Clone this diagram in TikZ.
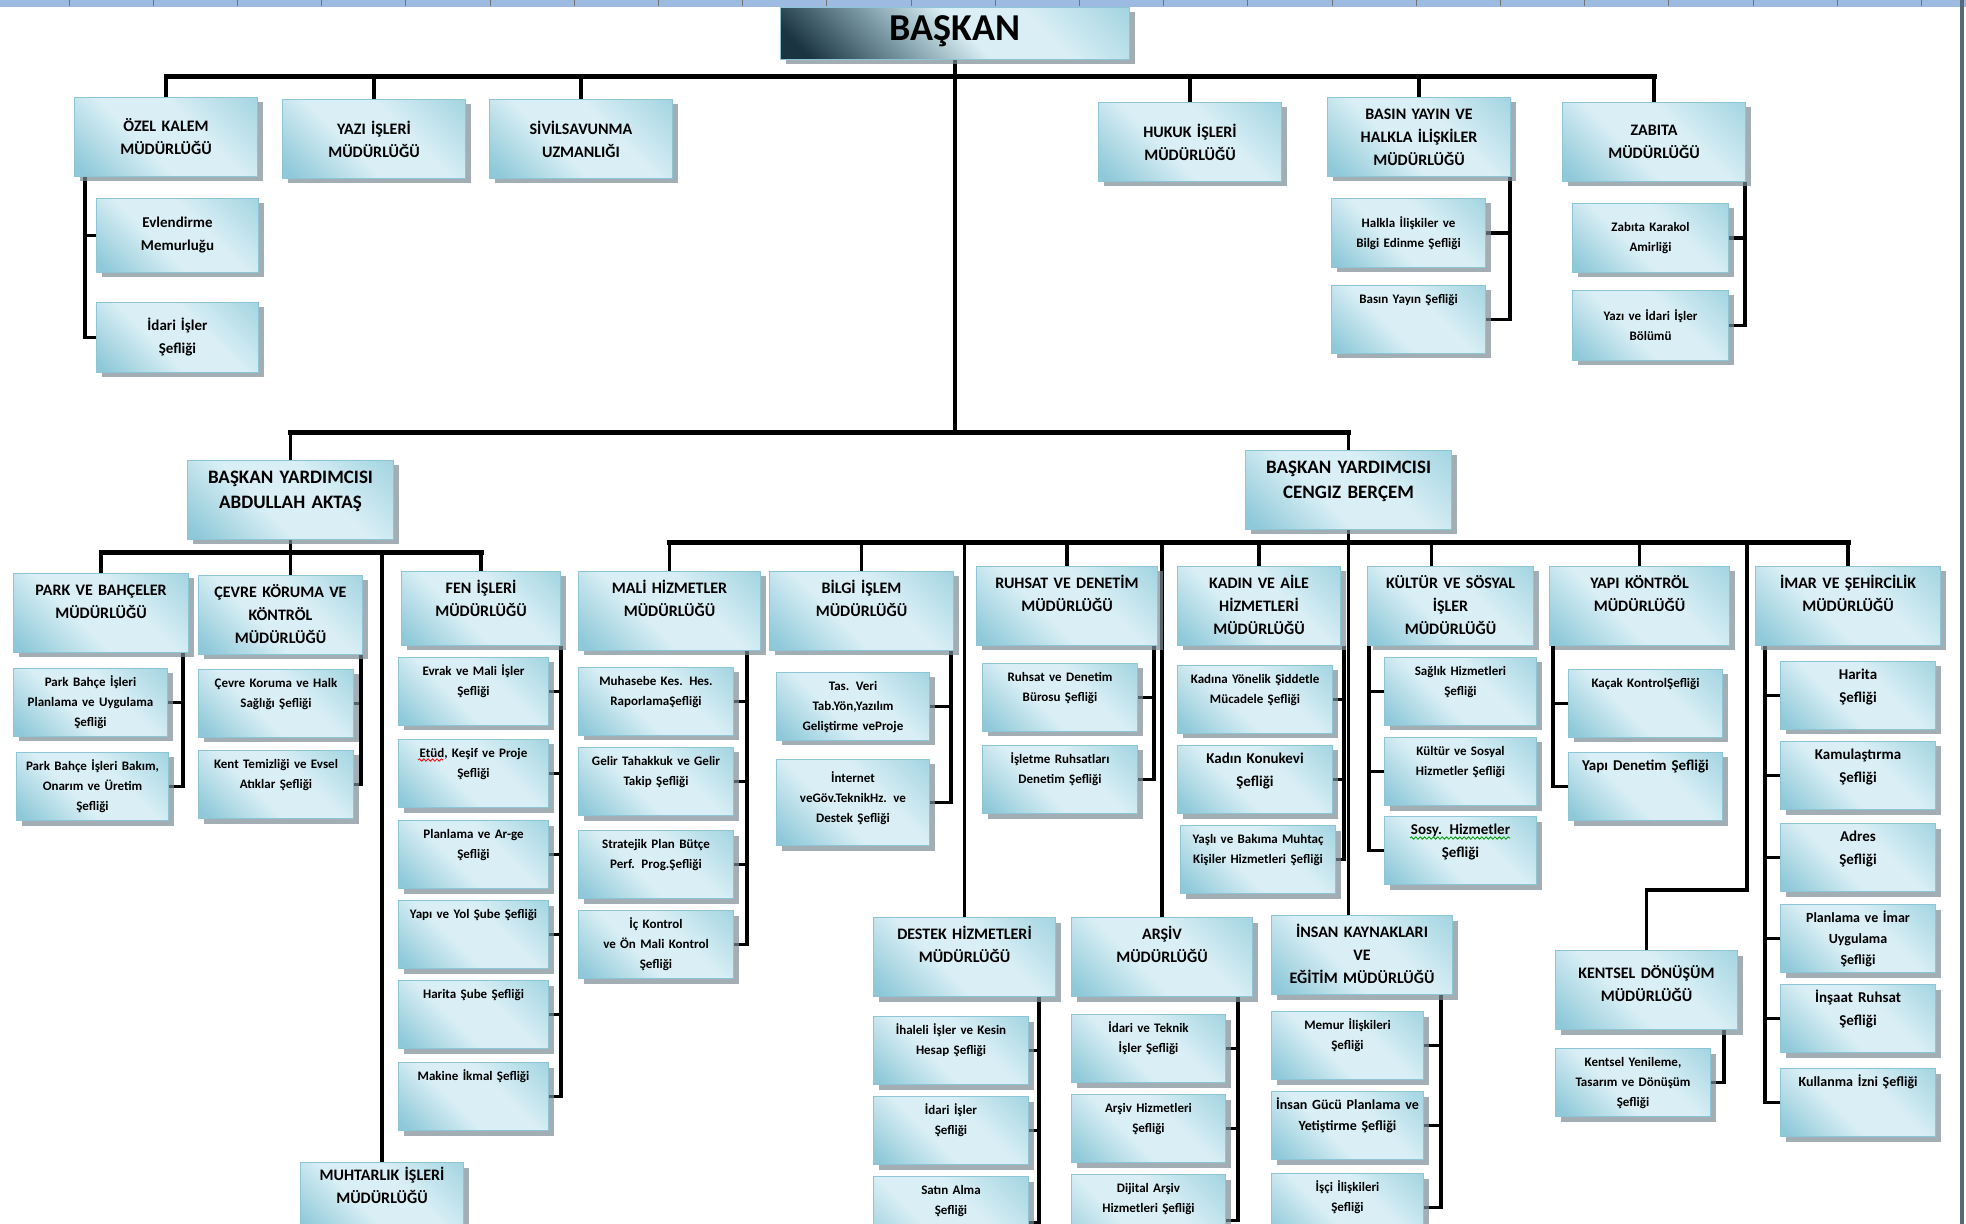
\documentclass[tikz,border=0pt]{standalone}
\usepackage{fontspec}
\setmainfont{Carlito}
\usetikzlibrary{shadows, backgrounds, decorations.pathmorphing}

\definecolor{bxdark}{HTML}{8FC9D9}
\definecolor{bxlight}{HTML}{DAEFF5}
\definecolor{bxmid}{HTML}{A4D5E2}
\definecolor{bxline}{HTML}{8CC6D6}
\definecolor{bxshadow}{HTML}{7D8C95}
\definecolor{bsdark}{HTML}{1B3442}
\definecolor{bsmid}{HTML}{7F9DA8}
\definecolor{bandblue}{HTML}{9DBBE1}
\definecolor{edgegray}{HTML}{56697A}

\pgfdeclarehorizontalshading{boxfill}{100bp}{color(0bp)=(bxdark); color(18bp)=(bxdark); color(42bp)=(bxlight); color(60bp)=(bxlight); color(85bp)=(bxmid); color(100bp)=(bxmid)}
\pgfdeclarehorizontalshading{bossfill}{100bp}{color(0bp)=(bsdark); color(20bp)=(bsdark); color(38bp)=(bsmid); color(52bp)=(bxlight); color(66bp)=(bxlight); color(85bp)=(bxmid); color(100bp)=(bxmid)}

\newcommand\baskanfont{\fontsize{19}{22}\selectfont\bfseries}
\newcommand\yrdfont{\fontsize{9.5}{12.5}\selectfont\bfseries}
\newcommand\mudurfont{\fontsize{8}{11.5}\selectfont\bfseries}
\newcommand\seffont{\fontsize{6.5}{10}\selectfont\bfseries}
\newcommand\ustseffont{\fontsize{7.5}{11.5}\selectfont\bfseries}

\begin{document}
\begin{tikzpicture}[x=0.5pt, y=-0.5pt,
    boxbase/.style={draw=bxline, line width=0.5pt, shading=boxfill, shading angle=45,
        drop shadow={shadow xshift=2.5pt, shadow yshift=-2.5pt, fill=bxshadow, opacity=0.7},
        anchor=north west, align=center, inner xsep=2pt},
    topbox/.style={boxbase, text width=87.5pt, minimum height=39.5pt, font=\mudurfont},
    mudur/.style={boxbase, text width=87pt, inner ysep=6pt, text height=5pt, text depth=22.5pt, font=\mudurfont},
    yrd/.style={boxbase, text width=99pt, inner ysep=5.5pt, text height=6pt, text depth=22.5pt, font=\yrdfont},
    sef/.style={boxbase, text width=73.5pt, inner ysep=4.5pt, text height=4.5pt, text depth=20.5pt, font=\seffont},
    sefb/.style={sef, font=\ustseffont},
    sefc/.style={boxbase, text width=73.5pt, minimum height=34.5pt, font=\seffont},
    conn/.style={line width=1.7pt},
    bus/.style={line width=2.5pt, line cap=rect},
    squig/.style={#1, line width=0.4pt, decorate, decoration={snake, amplitude=0.6pt, segment length=2.2pt}}
]
\useasboundingbox (0,0) rectangle (1966,1224);
\clip (0,0) rectangle (1966,1224);

% Baskan and the top row
\node[boxbase, shading=bossfill, text width=170.5pt, inner ysep=4pt, text height=12.5pt, text depth=5.5pt, font=\baskanfont] (baskan) at (780,7) {BAŞKAN};

\node[topbox] (ozel) at (74,97) {ÖZEL KALEM\\MÜDÜRLÜĞÜ};
\node[topbox] (yazi) at (282,99) {YAZI İŞLERİ\\MÜDÜRLÜĞÜ};
\node[topbox] (sivil) at (489,99) {SİVİLSAVUNMA\\UZMANLIĞI};
\node[topbox] (hukuk) at (1098,102) {HUKUK İŞLERİ\\MÜDÜRLÜĞÜ};
\node[topbox] (basin) at (1327,97) {BASIN YAYIN VE\\HALKLA İLİŞKİLER\\MÜDÜRLÜĞÜ};
\node[topbox] (zabita) at (1562,102) {ZABITA\\MÜDÜRLÜĞÜ};

\node[sefc, text width=77pt, minimum height=37pt, font=\ustseffont] (evlen) at (96,198) {Evlendirme\\Memurluğu};
\node[sefc, text width=77pt, minimum height=35pt, font=\ustseffont] (idari) at (96,302) {İdari İşler\\Şefliği};
\node[sefc, text width=73pt] (halkla) at (1331,198) {Halkla İlişkiler ve\\Bilgi Edinme Şefliği};
\node[sef, text width=73pt] (basyay) at (1331,285) {Basın Yayın Şefliği};
\node[sefc, text width=74pt] (karakol) at (1572,203) {Zabıta Karakol\\Amirliği};
\node[sefc, text width=74pt, minimum height=35pt] (zyazi) at (1572,290) {Yazı ve İdari İşler\\Bölümü};

% Baskan yardimcilari
\node[yrd] (abdullah) at (187,460) {BAŞKAN YARDIMCISI\\ABDULLAH AKTAŞ};
\node[yrd] (cengiz) at (1245,450) {BAŞKAN YARDIMCISI\\CENGIZ BERÇEM};

% Abdullah Aktas branch
\node[mudur, text width=83.5pt] (park) at (13,573) {PARK VE BAHÇELER\\MÜDÜRLÜĞÜ};
\node[mudur, text width=78pt] (cevre) at (198,575) {ÇEVRE KÖRUMA VE\\KÖNTRÖL\\MÜDÜRLÜĞÜ};
\node[mudur, text width=75.5pt, text depth=20pt] (fen) at (401,571) {FEN İŞLERİ\\MÜDÜRLÜĞÜ};
\node[mudur, text width=77.5pt, inner ysep=4pt] (muhtar) at (300,1162) {MUHTARLIK İŞLERİ\\MÜDÜRLÜĞÜ};

\node[sef, text width=73pt] (parkA) at (13,668) {Park Bahçe İşleri\\Planlama ve Uygulama\\Şefliği};
\node[sef, text width=72pt] (parkB) at (16,752) {Park Bahçe İşleri Bakım,\\Onarım ve Üretim\\Şefliği};
\node[sef] (cevreA) at (198,669) {Çevre Koruma ve Halk\\Sağlığı Şefliği};
\node[sef] (cevreB) at (198,750) {Kent Temizliği ve Evsel\\Atıklar Şefliği};

\node[sef, text width=71pt] (fenA) at (398,657) {Evrak ve Mali İşler\\Şefliği};
\node[sef, text width=71pt] (fenB) at (398,739) {Etüd, Keşif ve Proje\\Şefliği};
\node[sef, text width=71pt] (fenC) at (398,820) {Planlama ve Ar-ge\\Şefliği};
\node[sef, text width=71pt] (fenD) at (398,900) {Yapı ve Yol Şube Şefliği};
\node[sef, text width=71pt] (fenE) at (398,980) {Harita Şube Şefliği};
\node[sef, text width=71pt] (fenF) at (398,1062) {Makine İkmal Şefliği};

% Cengiz Bercem branch
\node[mudur] (mali) at (578,571) {MALİ HİZMETLER\\MÜDÜRLÜĞÜ};
\node[mudur, text width=88pt] (bilgi) at (769,571) {BİLGİ İŞLEM\\MÜDÜRLÜĞÜ};
\node[mudur, text width=86.5pt] (ruhsat) at (976,566) {RUHSAT VE DENETİM\\MÜDÜRLÜĞÜ};
\node[mudur, text width=77.5pt] (kadin) at (1177,566) {KADIN VE AİLE\\HİZMETLERİ\\MÜDÜRLÜĞÜ};
\node[mudur, text width=79pt] (kultur) at (1367,566) {KÜLTÜR VE SÖSYAL\\İŞLER\\MÜDÜRLÜĞÜ};
\node[mudur, text width=86pt] (yapi) at (1549,566) {YAPI KÖNTRÖL\\MÜDÜRLÜĞÜ};
\node[mudur, text width=88.5pt] (imar) at (1755,566) {İMAR VE ŞEHİRCİLİK\\MÜDÜRLÜĞÜ};
\node[mudur] (destek) at (873,917) {DESTEK HİZMETLERİ\\MÜDÜRLÜĞÜ};
\node[mudur, text width=86.5pt] (arsiv) at (1071,917) {ARŞİV\\MÜDÜRLÜĞÜ};
\node[mudur, text width=86.5pt] (insan) at (1271,915) {İNSAN KAYNAKLARI\\VE\\EĞİTİM MÜDÜRLÜĞÜ};
\node[mudur, inner ysep=9pt, text depth=16.5pt] (kentsel) at (1555,950) {KENTSEL DÖNÜŞÜM\\MÜDÜRLÜĞÜ};

\node[sef] (maliA) at (578,667) {Muhasebe Kes. Hes.\\RaporlamaŞefliği};
\node[sef] (maliB) at (578,747) {Gelir Tahakkuk ve Gelir\\Takip Şefliği};
\node[sef] (maliC) at (578,830) {Stratejik Plan Bütçe\\Perf. Prog.Şefliği};
\node[sef] (maliD) at (578,910) {İç Kontrol\\ve Ön Mali Kontrol\\Şefliği};
\node[sef, text width=72.5pt] (bilgiA) at (776,672) {Tas. Veri\\Tab.Yön,Yazılım\\Geliştirme veProje};
\node[sef, text width=72.5pt, inner ysep=7pt, text depth=24.5pt] (bilgiB) at (776,759) {İnternet\\veGöv.TeknikHz. ve\\Destek Şefliği};
\node[sef] (ruhsatA) at (982,663) {Ruhsat ve Denetim\\Bürosu Şefliği};
\node[sef] (ruhsatB) at (982,745) {İşletme Ruhsatları\\Denetim Şefliği};
\node[sef] (kadinA) at (1177,665) {Kadına Yönelik Şiddetle\\Mücadele Şefliği};
\node[sefb] (kadinB) at (1177,745) {Kadın Konukevi\\Şefliği};
\node[sef] (kadinC) at (1180,825) {Yaşlı ve Bakıma Muhtaç\\Kişiler Hizmetleri Şefliği};
\node[sef, text width=72pt] (kulturA) at (1384,657) {Sağlık Hizmetleri\\Şefliği};
\node[sef, text width=72pt] (kulturB) at (1384,737) {Kültür ve Sosyal\\Hizmetler Şefliği};
\node[sefb, text width=72pt] (kulturC) at (1384,816) {Sosy. Hizmetler\\Şefliği};
\node[sef, text width=73pt] (yapiA) at (1568,669) {Kaçak KontrolŞefliği};
\node[sefb, text width=73pt] (yapiB) at (1568,752) {Yapı Denetim Şefliği};
\node[sefb] (imarA) at (1780,661) {Harita\\Şefliği};
\node[sefb] (imarB) at (1780,741) {Kamulaştırma\\Şefliği};
\node[sefb] (imarC) at (1780,823) {Adres\\Şefliği};
\node[sef, font=\fontsize{7}{10.5}\selectfont\bfseries] (imarD) at (1780,904) {Planlama ve İmar\\Uygulama\\Şefliği};
\node[sefb] (imarE) at (1780,984) {İnşaat Ruhsat\\Şefliği};
\node[sef, font=\fontsize{7}{10.5}\selectfont\bfseries] (imarF) at (1780,1068) {Kullanma İzni Şefliği};
\node[sef] (destekA) at (873,1016) {İhaleli İşler ve Kesin\\Hesap Şefliği};
\node[sef] (destekB) at (873,1096) {İdari İşler\\Şefliği};
\node[sef, text depth=32.5pt] (destekC) at (873,1176) {Satın Alma\\Şefliği};
\node[sef, text width=73pt] (arsivA) at (1071,1014) {İdari ve Teknik\\İşler Şefliği};
\node[sef, text width=73pt] (arsivB) at (1071,1094) {Arşiv Hizmetleri\\Şefliği};
\node[sef, text width=73pt, text depth=32.5pt] (arsivC) at (1071,1174) {Dijital Arşiv\\Hizmetleri Şefliği};
\node[sef, text width=72pt] (insanA) at (1271,1011) {Memur İlişkileri\\Şefliği};
\node[sef, text width=72pt, font=\fontsize{7}{10.5}\selectfont\bfseries] (insanB) at (1271,1091) {İnsan Gücü Planlama ve\\Yetiştirme Şefliği};
\node[sef, text width=72pt] (insanC) at (1271,1173) {İşçi İlişkileri\\Şefliği};
\node[sef] (kentselA) at (1555,1048) {Kentsel Yenileme,\\Tasarım ve Dönüşüm\\Şefliği};

% spell-check marks
\draw[squig=red] ([shift={(20,21)}]fenB.north west) -- ++(25,0);
\draw[squig=green!60!black] ([shift={(26,22)}]kulturC.north west) -- ++(100,0);

% Connectors
\begin{pgfonlayer}{background}
\fill[white] (0,0) rectangle (1966,1224);
\coordinate (b1) at (0,77);
\coordinate (b2) at (0,433);
\coordinate (b3) at (0,553);
\coordinate (b4) at (0,543);

\draw[bus] (ozel.north |- b1) -- (zabita.north |- b1);
\foreach \n in {ozel,yazi,sivil,hukuk,basin,zabita}
    \draw[conn] (\n.north) -- (\n.north |- b1);
\draw[conn] (baskan.south) -- (baskan.south |- b2);
\draw[bus] (abdullah.north |- b2) -- (cengiz.north |- b2);
\foreach \n in {abdullah,cengiz}
    \draw[conn] (\n.north) -- (\n.north |- b2);

\foreach \c in {evlen,idari} \draw[conn] ([xshift=5.5pt]ozel.south west) |- (\c.west);
\foreach \c in {halkla,basyay} \draw[conn] ([xshift=-0.5pt]basin.south east) |- (\c.east);
\foreach \c in {karakol,zyazi} \draw[conn] ([xshift=-0.5pt]zabita.south east) |- (\c.east);

% Abdullah Aktas
\draw[conn] (abdullah.south) -- (abdullah.south |- cevre.north);
\draw[bus] (park.north |- b3) -- (fen.north |- b3);
\foreach \n in {park,muhtar,fen}
    \draw[conn] (\n.north |- b3) -- (\n.north);
\foreach \c in {parkA,parkB} \draw[conn] ([xshift=-3pt]park.south east) |- (\c.east);
\foreach \c in {cevreA,cevreB} \draw[conn] ([xshift=-1pt]cevre.south east) |- (\c.east);
\foreach \c in {fenA,fenB,fenC,fenD,fenE,fenF} \draw[conn] (fen.south east) |- (\c.east);

% Cengiz Bercem
\draw[conn] (cengiz.south) -- (cengiz.south |- insan.north);
\draw[bus] (mali.north |- b4) -- (imar.north |- b4);
\foreach \n in {mali,bilgi,destek,ruhsat,arsiv,kadin,yapi,imar}
    \draw[conn] (\n.north |- b4) -- (\n.north);
\coordinate (kdrop) at ([xshift=-9.5pt]kultur.north);
\draw[conn] (kdrop |- b4) -- (kdrop);
\coordinate (kturn) at (1747,890);
\draw[conn] (kturn |- b4) -- (kturn) -| (kentsel.north);

\foreach \c in {maliA,maliB,maliC,maliD} \draw[conn] ([xshift=-7pt]mali.south east) |- (\c.east);
\foreach \c in {bilgiA,bilgiB} \draw[conn] ([xshift=-1.5pt]bilgi.south east) |- (\c.east);
\foreach \c in {ruhsatA,ruhsatB} \draw[conn] ([xshift=-2pt]ruhsat.south east) |- (\c.east);
\foreach \c in {kadinA,kadinB,kadinC} \draw[conn] ([xshift=1.5pt]kadin.south east) |- (\c.east);
\foreach \c in {kulturA,kulturB,kulturC} \draw[conn] ([xshift=1pt]kultur.south west) |- (\c.west);
\foreach \c in {yapiA,yapiB} \draw[conn] ([xshift=2pt]yapi.south west) |- (\c.west);
\foreach \c in {imarA,imarB,imarC,imarD,imarE,imarF} \draw[conn] ([xshift=5pt]imar.south west) |- (\c.west);
\foreach \c in {destekA,destekB,destekC} \draw[conn] ([xshift=-8.5pt]destek.south east) |- (\c.east);
\foreach \c in {arsivA,arsivB,arsivC} \draw[conn] ([xshift=-7.5pt]arsiv.south east) |- (\c.east);
\foreach \c in {insanA,insanB,insanC} \draw[conn] ([xshift=-6pt]insan.south east) |- (\c.east);
\draw[conn] ([xshift=-7pt]kentsel.south east) |- (kentselA.east);
\end{pgfonlayer}

% ruler band and right edge
\fill[bandblue] (0,0) rectangle (1966,7);
\foreach \i in {0,...,22}
    \draw[black!55, line width=0.4pt] ({69+84.2*\i},0) -- ++(0,6);
\draw[edgegray, line width=2pt] (1962,0) -- (1962,1224);

\end{tikzpicture}
\end{document}
